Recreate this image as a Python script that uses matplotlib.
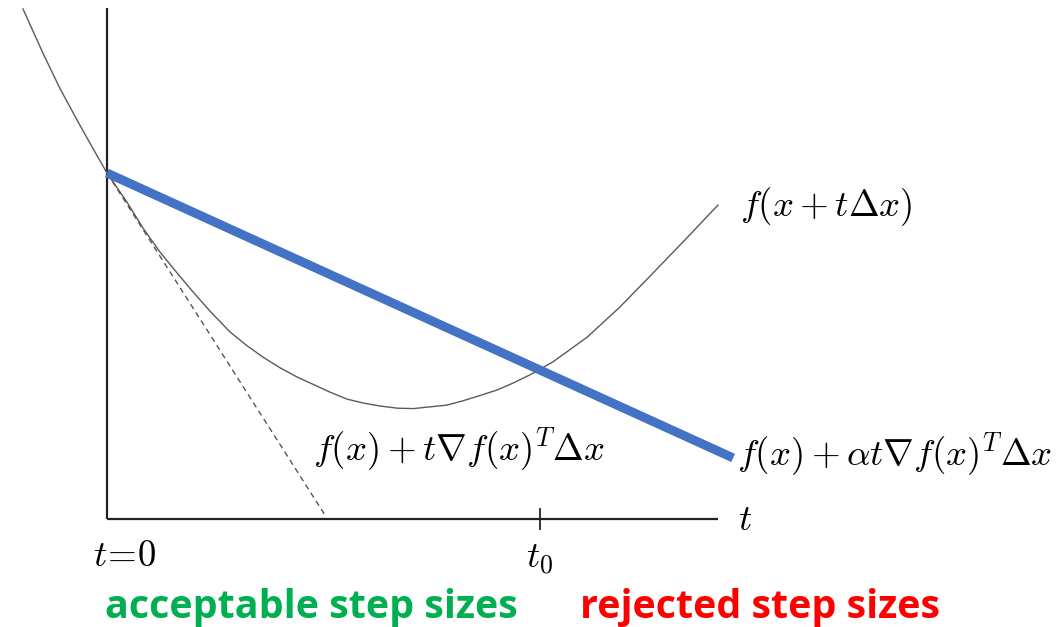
import matplotlib.pyplot as plt

plt.rcParams['mathtext.fontset'] = 'cm'

# f(x + t*dx) sampled along t
curve_t = [-0.194, -0.148, -0.109, -0.069, -0.032, 0.0, 0.046, 0.083, 0.122, 0.162,
           0.199, 0.238, 0.284, 0.321, 0.360, 0.400, 0.439, 0.515, 0.554, 0.591,
           0.630, 0.670, 0.707, 0.746, 0.785, 0.822, 0.861, 0.901, 0.938, 0.977,
           1.030, 1.109, 1.185, 1.261, 1.339, 1.411]
curve_f = [1.178, 1.076, 0.995, 0.921, 0.855, 0.799, 0.732, 0.672, 0.617, 0.568,
           0.524, 0.480, 0.432, 0.402, 0.374, 0.349, 0.328, 0.293, 0.277, 0.268,
           0.261, 0.256, 0.255, 0.259, 0.263, 0.273, 0.285, 0.298, 0.314, 0.333,
           0.363, 0.420, 0.490, 0.568, 0.649, 0.725]

f0 = 0.799          # f(x)
grad_dx = -1.569    # grad f(x)^T dx
alpha = 0.29        # sufficient decrease fraction
t0 = 1.0
t_end = 1.411
t_alpha_end = 1.446

fig = plt.figure(figsize=(10.61, 6.27), dpi=100)
ax = fig.add_axes([0, 0, 1, 1])
ax.set_xlim(-0.2471, 2.2032)
ax.set_ylim(-0.2494, 1.1986)
ax.axis('off')

# axes
ax.plot([0, 0], [0, 1.18], color='#222222', lw=1.6, solid_capstyle='butt')
ax.plot([0, t_end], [0, 0], color='#222222', lw=1.6, solid_capstyle='butt')
ax.plot([t0, t0], [-0.024, 0.024], color='#222222', lw=1.3)

# function along the search direction
ax.plot(curve_t, curve_f, color='#5a5a5a', lw=1.0, solid_joinstyle='round')

# tangent line
t_tan = -f0 / grad_dx * 0.99
ax.plot([0, t_tan], [f0, f0 + grad_dx * t_tan], color='#555555', lw=1.0,
        ls=(0, (4, 3)))

# relaxed line: dashed original underneath, highlighted on top
ax.plot([0, 0.55], [f0 - 0.006, f0 - 0.006 + alpha * grad_dx * 0.55],
        color='#777777', lw=1.0, ls=(0, (4, 3)))
ax.plot([0, t_alpha_end], [f0, f0 + alpha * grad_dx * t_alpha_end],
        color='#4472C4', lw=6.5, solid_capstyle='butt')

fs = 26.5
ax.text(1.462, 0.722, r'$f(x+t\Delta x)$', fontsize=fs, va='center', ha='left')
ax.text(0.476, 0.160, r'$f(x)+t\nabla f(x)^T\Delta x$', fontsize=fs,
        va='center', ha='left')
ax.text(1.455, 0.148, r'$f(x)+\alpha t\nabla f(x)^T\Delta x$', fontsize=fs,
        va='center', ha='left')
ax.text(1.457, 0.0, r'$t$', fontsize=fs, va='center', ha='left')
ax.text(0.040, -0.085, r'$t\!=\!0$', fontsize=fs, va='center', ha='center')
ax.text(t0, -0.092, r'$t_0$', fontsize=fs, va='center', ha='center')

ax.text(-0.005, -0.204, 'acceptable step sizes', fontsize=28.4, fontweight='bold',
        family='Open Sans', color='#00B050', va='center', ha='left')
ax.text(1.092, -0.204, 'rejected step sizes', fontsize=28.4, fontweight='bold',
        family='Open Sans', color='#FF0000', va='center', ha='left')

fig.savefig('out.png', dpi=100)
